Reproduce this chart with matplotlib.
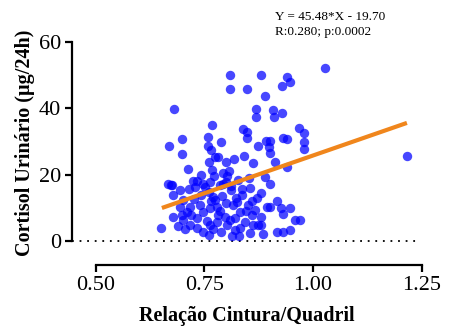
import matplotlib
matplotlib.use("Agg")
import matplotlib.pyplot as plt
import numpy as np

plt.rcParams["font.family"] = ["Liberation Serif", "DejaVu Serif"]

# waist/hip ratio (x) and urinary cortisol (y)
whr = [
    1.027, 0.808, 0.879, 0.939, 0.948, 0.929, 0.808, 0.848, 0.889, 0.680,
    0.868, 0.868, 0.908, 0.929, 0.909, 0.768, 0.839, 0.848, 0.848, 0.968,
    0.978, 0.699, 0.758, 0.787, 0.669, 0.758, 0.766, 0.774, 0.873, 0.891,
    0.900, 0.899, 0.900, 0.931, 0.939, 0.978, 0.978, 0.699, 0.781, 0.840,
    0.912, 0.799, 0.817, 0.760, 0.862, 0.939, 0.711, 0.768, 0.771, 0.741,
    0.793, 0.802, 0.675, 0.666, 0.724, 0.728, 0.693, 0.793, 0.812, 0.889,
    0.900, 0.837, 0.678, 0.701, 0.751, 0.761, 0.770, 1.216, 0.871, 0.893,
    0.900, 0.881, 0.927, 0.931, 0.948, 0.959, 0.916, 0.931, 0.948, 0.881,
    0.885, 0.862, 0.873, 0.831, 0.969, 0.651, 0.693, 0.709, 0.720, 0.701,
    0.716, 0.732, 0.747, 0.762, 0.778, 0.732, 0.747, 0.762, 0.778, 0.789,
    0.801, 0.781, 0.797, 0.674, 0.733, 0.747, 0.762, 0.785, 0.799, 0.715,
    0.810, 0.822, 0.836, 0.850, 0.815, 0.831, 0.859, 0.808, 0.843, 0.820,
    0.854, 0.813, 0.866, 0.827, 0.854, 0.678, 0.699, 0.716, 0.775, 0.790,
    0.800, 0.765, 0.785, 0.755, 0.770, 0.740, 0.725, 0.705, 0.690, 0.760,
    0.830, 0.845, 0.820, 0.860, 0.918, 0.880, 0.852, 0.742, 0.806, 0.826,
]
cortisol = [
    52.2, 49.9, 50.1, 49.4, 47.8, 46.8, 45.8, 45.8, 43.7, 39.8,
    39.7, 37.3, 39.5, 38.5, 37.5, 34.9, 33.7, 33.0, 31.2, 34.2,
    32.7, 30.9, 31.3, 29.9, 28.7, 28.7, 27.5, 25.4, 28.7, 30.1,
    30.1, 28.4, 26.5, 31.2, 30.9, 29.9, 27.7, 26.3, 25.4, 25.6,
    23.8, 23.8, 24.6, 23.8, 23.4, 22.2, 21.6, 21.4, 19.6, 19.8,
    20.4, 19.6, 16.8, 17.2, 18.2, 16.4, 15.4, 17.2, 16.6, 19.2,
    17.2, 15.6, 13.9, 12.4, 16.4, 14.8, 13.4, 25.7, 12.9, 10.3,
    10.3, 7.3, 9.9, 8.1, 9.9, 6.3, 2.8, 2.8, 3.3, 4.8,
    2.0, 4.8, 4.8, 3.8, 6.3, 3.8, 10.3, 8.8, 7.8, 6.3,
    4.8, 6.8, 8.8, 9.9, 10.3, 3.8, 2.8, 4.8, 5.8, 2.8,
    4.8, 7.8, 7.3, 16.9, 18.1, 17.1, 17.7, 16.9, 17.9, 15.7,
    15.4, 13.0, 13.9, 10.9, 10.9, 8.7, 7.8, 6.3, 5.7, 3.3,
    2.4, 1.5, 9.4, 18.4, 16.0, 7.3, 7.8, 10.3, 12.5, 13.5,
    11.5, 12.0, 9.0, 6.0, 3.5, 10.8, 12.8, 3.5, 4.5, 1.8,
    1.5, 9.0, 6.8, 12.0, 12.0, 14.5, 19.0, 14.0, 21.0, 11.8,
]

slope, intercept = 45.48, -19.70
fit_x = [0.652, 1.216]
x_ticks = [0.50, 0.75, 1.00, 1.25]
y_ticks = [0, 20, 40, 60]

fig = plt.figure(figsize=(4.51, 3.33), dpi=100)
ax = fig.add_axes([0.1596, 0.2042, 0.7754, 0.6697])

ax.scatter(whr, cortisol, s=46, color="#0000ff", alpha=0.72, linewidths=0, zorder=3)
fx = np.array(fit_x)
ax.plot(fx, slope * fx + intercept, color="#f0861c", linewidth=3, solid_capstyle="butt", zorder=4)
ax.axhline(0, xmin=0, xmax=0.985, color="black", linestyle=(0, (1, 3.2)), linewidth=1.3, zorder=2)

ax.set_xlim(0.445, 1.25)
ax.set_ylim(-7.24, 60)
ax.set_xticks(x_ticks)
ax.set_xticklabels([f"{v:.2f}" for v in x_ticks])
ax.set_yticks(y_ticks)

ax.spines[["top", "right"]].set_visible(False)
ax.spines["left"].set_bounds(0, 60)
ax.spines["bottom"].set_bounds(0.50, 1.25)
for side in ("left", "bottom"):
    ax.spines[side].set_linewidth(1.6)
ax.tick_params(axis="both", direction="out", length=5, width=1.6, labelsize=16, pad=3)

ax.set_xlabel("Relação Cintura/Quadril", fontsize=14.5, fontweight="bold", labelpad=8)
ax.set_ylabel("Cortisol Urinário (µg/24h)", fontsize=14.5, fontweight="bold", labelpad=6)
ax.yaxis.set_label_coords(-0.105, 0.55)

fig.text(0.61, 0.95, "Y = 45.48*X - 19.70", fontsize=9.5, va="center", ha="left")
fig.text(0.61, 0.905, "R:0.280; p:0.0002", fontsize=9.5, va="center", ha="left")

fig.savefig("out.png", dpi=100)
